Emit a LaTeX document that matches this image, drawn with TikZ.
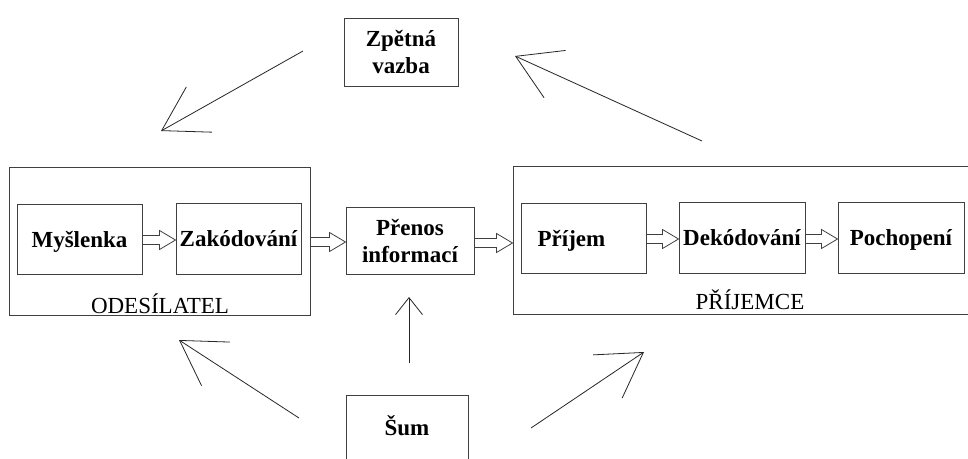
\documentclass[tikz,border=0pt]{standalone}
\usepackage{fontspec}
\setmainfont{Liberation Serif}
\usetikzlibrary{arrows.meta,calc}
\newcommand\blkarrow[3]{%
  \path (#1 |- 0,#3) coordinate (bs) (#2 |- 0,#3) coordinate (bt);
  \draw[blkarr] ($(bs)+(0,-4.5)$) -- ($(bt)+(-16,-4.5)$) -- ($(bt)+(-16,-9.5)$) -- (bt)
    -- ($(bt)+(-16,9.5)$) -- ($(bt)+(-16,4.5)$) -- ($(bs)+(0,4.5)$) -- cycle;}
\begin{document}
\begin{tikzpicture}[x=1pt,y=-1pt,
  box/.style={draw=black!75,line width=1pt,inner sep=0pt,
    font=\fontsize{23}{26.5}\selectfont\bfseries,align=center,text=black},
  onebox/.style={box,text height=16pt,text depth=0pt},
  outer/.style={draw=black!75,line width=1pt,inner sep=0pt},
  grp/.style={font=\fontsize{23}{24}\selectfont,text=black},
  blkarr/.style={draw=black!75,fill=white,line width=0.8pt,line join=miter},
  thinarr/.style={draw=black!85,line width=0.8pt,-{Straight Barb[length=43pt,width=52pt]}},
  smallarr/.style={draw=black!85,line width=0.8pt,-{Straight Barb[length=17pt,width=27pt]}}]
\clip (0,0) rectangle (968,458);
\fill[white] (0,0) rectangle (968,458);
% outer groups
\node[outer,minimum width=301,minimum height=148] (odesilatel) at (159.5,241) {};
\node[grp] (odlab) at (160,304) {ODESÍLATEL};
\node[outer,minimum width=477,minimum height=148] (prijemce) at (751.5,240) {};
\node[grp] (prlab) at (750,300) {PŘÍJEMCE};
% inner boxes
\node[onebox,minimum width=125,minimum height=70] (myslenka) at (79.5,239) {Myšlenka};
\node[onebox,minimum width=125,minimum height=71] (zakodovani) at (238.5,238.5) {Zakódování};
\node[box,minimum width=128,minimum height=67] (prenos) at (410,241) {Přenos\\informací};
\node[onebox,minimum width=125,minimum height=70] (prijem) at (583.5,238) {Příjem\hspace*{24pt}};
\node[onebox,minimum width=126,minimum height=71] (dekodovani) at (742,237.5) {Dekódování};
\node[onebox,minimum width=126,minimum height=71] (pochopeni) at (901,237.5) {Pochopení};
\node[box,minimum width=114,minimum height=68] (zpetna) at (401,52) {Zpětná\\vazba};
\node[onebox,minimum width=122,minimum height=65] (sum) at (407,427.5) {Šum};
% block arrows
\blkarrow{myslenka.east}{zakodovani.west}{240}
\blkarrow{odesilatel.east}{prenos.west}{242}
\blkarrow{prenos.east}{prijemce.west}{243}
\blkarrow{prijem.east}{dekodovani.west}{239}
\blkarrow{dekodovani.east}{pochopeni.west}{239}
% thin arrows
\coordinate (f1s) at (303,51); \coordinate (f1t) at (161,131);
\coordinate (f2s) at (702,141); \coordinate (f2t) at (515,56);
\coordinate (n1s) at (299,418); \coordinate (n1t) at (179,340);
\coordinate (n2s) at (409,363); \coordinate (n2t) at (409,297);
\coordinate (n3s) at (531,428); \coordinate (n3t) at (644,352);
\draw[thinarr] (f1s) -- (f1t);
\draw[thinarr] (f2s) -- (f2t);
\draw[thinarr] (n1s) -- (n1t);
\draw[smallarr] (n2s) -- (n2t);
\draw[thinarr] (n3s) -- (n3t);
\end{tikzpicture}
\end{document}
